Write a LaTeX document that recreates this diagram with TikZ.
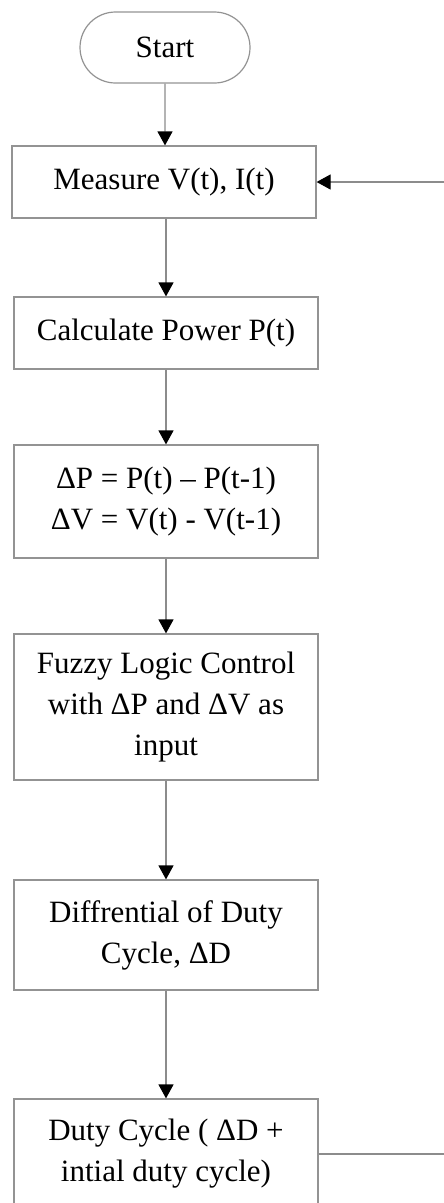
\documentclass[tikz,border=0pt]{standalone}
\usepackage{fontspec}
\setmainfont{Liberation Serif}
\usetikzlibrary{arrows.meta,shapes.misc}

\begin{document}
\begin{tikzpicture}[x=1pt,y=-1pt]
\tikzstyle{every node}=[font=\fontsize{31}{41}\selectfont,align=center,inner sep=0pt]
\tikzstyle{box}=[draw=gray!85,line width=1.2pt,fill=white,minimum width=304pt]
\tikzstyle{term}=[draw=gray!85,line width=1.2pt,rounded rectangle,minimum width=170pt,minimum height=71pt]
\tikzstyle{arr}=[draw=gray!90,line width=1.2pt,-{Triangle[length=14pt,width=15pt,color=black]}]

\useasboundingbox (0,0) rectangle (444,1203);
\clip (0,0) rectangle (444,1203);

\node[term] (start) at (165,47.5) {Start};
\node[box,minimum height=72pt] (measure) at (164,182) {Measure V(t), I(t)};
\node[box,minimum height=72pt] (power) at (166,333) {Calculate Power P(t)};
\node[box,minimum height=113pt] (delta) at (166,501.5) {ΔP = P(t) – P(t-1)\\ΔV = V(t) - V(t-1)};
\node[box,minimum height=146pt] (fuzzy) at (166,707) {Fuzzy Logic Control\\with ΔP and ΔV as\\input};
\node[box,minimum height=110pt] (diff) at (166,935) {Diffrential of Duty\\Cycle, ΔD};
\node[box,minimum height=110pt] (duty) at (166,1154) {Duty Cycle ( ΔD +\\intial duty cycle)};

\draw[arr] (start) -- (start |- measure.north);
\draw[arr] (measure.south -| power) -- (power);
\draw[arr] (power) -- (delta);
\draw[arr] (delta) -- (fuzzy);
\draw[arr] (fuzzy) -- (diff);
\draw[arr] (diff) -- (duty);
\draw[arr] (duty.east) -- (470,1154) |- (measure.east);
\end{tikzpicture}
\end{document}
